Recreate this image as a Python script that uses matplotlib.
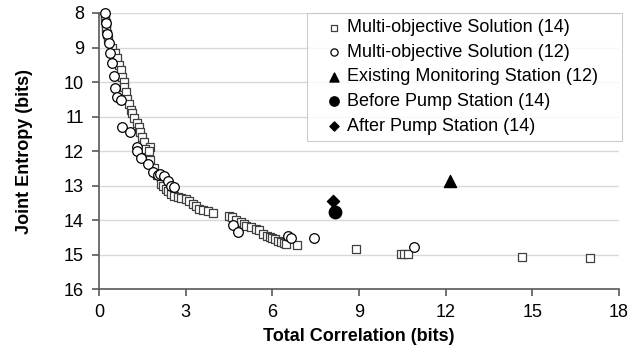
from matplotlib import pyplot as plt

plt.rcParams['font.family'] = ['Liberation Sans', 'DejaVu Sans']

# Multi-objective Solution (14)
sol14_x = [0.21, 0.22, 0.23, 0.24, 0.25, 0.27, 0.3, 0.45, 0.55, 0.63, 0.7, 0.75, 0.8, 0.85,
           0.88, 0.92, 0.95, 1.02, 1.1, 1.15, 1.22, 1.3, 1.37, 1.42, 1.48, 1.54, 1.77, 1.6,
           1.74, 1.77, 1.9, 2.0, 2.14, 2.22, 2.31, 2.4, 2.49, 2.6, 2.72, 2.85, 3.01, 3.12,
           3.24, 3.35, 3.47, 3.6, 3.76, 3.94, 4.49, 4.6, 4.75, 4.9, 5.0, 5.09, 5.25, 5.44,
           5.55, 5.67, 5.8, 5.9, 6.0, 6.08, 6.2, 6.31, 6.4, 6.48, 6.85, 8.88, 10.44, 10.57,
           10.7, 14.65, 16.99]
sol14_y = [8.08, 8.2, 8.3, 8.4, 8.5, 8.6, 8.75, 9.0, 9.15, 9.3, 9.5, 9.65, 9.85, 10.0,
           10.15, 10.3, 10.5, 10.65, 10.8, 10.9, 11.05, 11.2, 11.3, 11.45, 11.6, 11.75, 11.88, 11.95,
           12.0, 12.27, 12.5, 12.7, 12.96, 13.0, 13.1, 13.15, 13.24, 13.3, 13.34, 13.35, 13.39, 13.45,
           13.53, 13.6, 13.67, 13.7, 13.75, 13.79, 13.87, 13.9, 14.0, 14.05, 14.12, 14.18, 14.2, 14.25,
           14.3, 14.39, 14.45, 14.5, 14.52, 14.56, 14.6, 14.63, 14.66, 14.68, 14.71, 14.85, 14.97, 14.97,
           14.98, 15.06, 15.11]

# Multi-objective Solution (12)
sol12_x = [0.21, 0.24, 0.27, 0.36, 0.38, 0.44, 0.5, 0.56, 0.61, 0.75, 0.79, 1.08, 1.31, 1.33,
           1.45, 1.68, 1.85, 2.03, 2.12, 2.26, 2.37, 2.49, 2.6, 4.63, 4.8, 6.54, 6.66, 7.43, 10.9]
sol12_y = [8.0, 8.3, 8.61, 8.86, 9.15, 9.44, 9.83, 10.17, 10.42, 10.52, 11.3, 11.44, 11.88, 12.0,
           12.19, 12.36, 12.62, 12.69, 12.66, 12.72, 12.86, 13.0, 13.05, 14.15, 14.34, 14.47, 14.51, 14.52, 14.77]

existing_x, existing_y = [12.15], [12.88]
before_x, before_y = [8.16], [13.77]
after_x, after_y = [8.1], [13.44]

fig = plt.figure(figsize=(6.35, 3.61), dpi=100)
ax = fig.add_axes([0.156, 0.199, 0.819, 0.765])

ax.scatter(sol14_x, sol14_y, marker='s', s=32, facecolor='white', edgecolor='#404040',
           linewidth=0.9, label='Multi-objective Solution (14)', zorder=3, clip_on=False)
ax.scatter(sol12_x, sol12_y, marker='o', s=48, facecolor='white', edgecolor='black',
           linewidth=0.9, label='Multi-objective Solution (12)', zorder=4, clip_on=False)
ax.scatter(existing_x, existing_y, marker='^', s=75, color='black',
           label='Existing Monitoring Station (12)', zorder=5)
ax.scatter(before_x, before_y, marker='o', s=80, color='black',
           label='Before Pump Station (14)', zorder=5)
ax.scatter(after_x, after_y, marker='D', s=38, color='black',
           label='After Pump Station (14)', zorder=5)

ax.set_xlim(0, 18)
ax.set_ylim(16, 8)
ax.set_xticks(range(0, 19, 3))
ax.set_yticks(range(8, 17))
ax.grid(True, axis='y', color='#d9d9d9', linewidth=1)
ax.set_axisbelow(True)

for side in ['top', 'right']:
    ax.spines[side].set_visible(False)
for side in ['left', 'bottom']:
    ax.spines[side].set_color('#595959')
    ax.spines[side].set_linewidth(1.2)
ax.tick_params(direction='out', length=5, width=1.2, color='#595959', labelsize=13, pad=6)

ax.set_xlabel('Total Correlation (bits)', fontsize=13, fontweight='bold', labelpad=5)
ax.set_ylabel('Joint Entropy (bits)', fontsize=13, fontweight='bold', labelpad=22)

leg = ax.legend(loc='upper left', bbox_to_anchor=(0.40, 0.0, 0.606, 1.0), mode='expand',
                borderaxespad=0, fontsize=13, frameon=True, fancybox=False, edgecolor='#bfbfbf',
                handlelength=2.3, handletextpad=-0.45, labelspacing=0.42, markerscale=0.75,
                borderpad=0.35)
leg.get_frame().set_linewidth(0.8)

plt.savefig('out.png', dpi=100)
